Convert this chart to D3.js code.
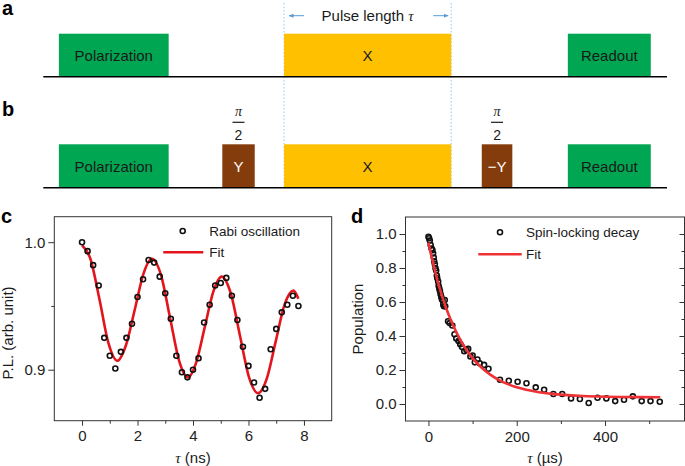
<!DOCTYPE html>
<html>
<head>
<meta charset="utf-8">
<script src="https://cdn.jsdelivr.net/npm/d3@7"></script>
<style>
body { margin: 0; background: #fff; }
svg text { font-family: "Liberation Sans", Arial, sans-serif; fill: #1a1a1a; }
</style>
</head>
<body>
<svg id="chart" width="685" height="466"></svg>
<script>
// PULSE SEQUENCES (position along the sequence, 0-100)
var pulseNames = ['Polarization', 'Y', 'X', '\u2212Y', 'Readout'];
var pulseStart = [2.5, 28.7, 38.6, 70.3, 84.1];
var pulseEnd = [20.1, 33.9, 65.4, 75.2, 97.4];
var pulseKind = ['pol', 'half', 'x', 'half', 'pol'];
var seqA = ['Polarization', 'X', 'Readout'];
var seqB = ['Polarization', 'Y', 'X', '\u2212Y', 'Readout'];

// PANEL C - Rabi oscillation
var rabiTime = [0, 0.2, 0.4, 0.6, 0.8, 1.0, 1.2, 1.4, 1.6, 1.8, 2.0, 2.2, 2.4, 2.6, 2.8, 3.0, 3.2, 3.4, 3.6, 3.8,
    4.0, 4.2, 4.4, 4.6, 4.8, 5.0, 5.2, 5.4, 5.6, 5.8, 6.0, 6.2, 6.4, 6.6, 6.8, 7.0, 7.2, 7.4, 7.6, 7.8];
var rabiPL = [1.000, 0.993, 0.982, 0.966, 0.925, 0.911, 0.901, 0.914, 0.925, 0.936, 0.957, 0.971, 0.986, 0.984,
    0.973, 0.960, 0.940, 0.911, 0.898, 0.894, 0.900, 0.909, 0.937, 0.951, 0.966, 0.968, 0.972, 0.958, 0.939,
    0.918, 0.903, 0.890, 0.878, 0.885, 0.916, 0.932, 0.945, 0.951, 0.958, 0.950];
var rabiFitTime = [0, 0.3, 0.63, 0.95, 1.27, 1.58, 1.9, 2.21, 2.52, 2.85, 3.17, 3.5, 3.82, 4.12, 4.43, 4.73,
    5.03, 5.36, 5.69, 6.02, 6.35, 6.66, 6.98, 7.3, 7.62, 7.8];
var rabiFitPL = [0.9976, 0.987, 0.955, 0.921, 0.907, 0.919, 0.947, 0.975, 0.987, 0.974, 0.941, 0.907, 0.894,
    0.906, 0.934, 0.961, 0.973, 0.960, 0.927, 0.894, 0.8816, 0.893, 0.922, 0.951, 0.962, 0.9556];
var rabiTicksX = [0, 2, 4, 6, 8];
var rabiMinorX = [1, 3, 5, 7];
var rabiTicksY = [0.9, 1.0];
var rabiMinorY = [0.95];

// PANEL D - spin-locking decay
var decayTime = [0, 1.5, 3, 5, 7, 9, 10.5, 12, 13, 14.5, 16, 17.5, 19, 20, 22, 23, 24.5, 26, 27.5, 29, 30.5, 32,
    33.5, 35, 37, 38, 44.5, 48, 54, 59, 63, 68, 72, 76, 81, 86, 90, 95, 100, 105, 111, 116, 126, 136,
    162, 182, 202, 222, 243, 262, 283, 303, 323, 343, 363, 383, 403, 423, 443, 463, 483, 503, 524];
var decayPop = [0.984, 0.975, 0.962, 0.935, 0.915, 0.905, 0.886, 0.862, 0.840, 0.822, 0.798, 0.785, 0.755, 0.740,
    0.720, 0.695, 0.680, 0.664, 0.645, 0.630, 0.616, 0.610, 0.585, 0.575, 0.612, 0.575, 0.487, 0.476, 0.462,
    0.410, 0.385, 0.370, 0.352, 0.335, 0.310, 0.318, 0.324, 0.280, 0.285, 0.245, 0.262, 0.240, 0.230, 0.207,
    0.143, 0.137, 0.131, 0.122, 0.098, 0.084, 0.059, 0.059, 0.033, 0.029, 0.006, 0.037, 0.033, 0.017, 0.025,
    0.045, 0.017, 0.017, 0.013];
var decayFitTime = [0, 10, 20, 30, 40, 50, 60, 70, 80, 90, 100, 120, 140, 160, 180, 200, 225, 250, 275, 300,
    350, 400, 450, 525];
var decayFitPop = [0.95, 0.835, 0.73, 0.642, 0.565, 0.498, 0.44, 0.388, 0.343, 0.304, 0.27, 0.215, 0.173, 0.141,
    0.117, 0.098, 0.082, 0.069, 0.061, 0.055, 0.047, 0.043, 0.041, 0.04];
var decayTicksX = [0, 200, 400];
var decayMinorX = [100, 300, 500];
var decayTicksY = [0, 0.2, 0.4, 0.6, 0.8, 1.0];
var decayMinorY = [0.1, 0.3, 0.5, 0.7, 0.9];

var pulseColors = { pol: '#00a651', x: '#ffc000', half: '#843c0c' };
var svg = d3.select('#chart');

// panel letters
function panelLetter(txt, x, y) {
    svg.append('text').attr('x', x).attr('y', y).text(txt)
        .style('font-size', '20px').style('font-weight', 'bold').style('fill', '#000');
}
panelLetter('a', 2, 15);
panelLetter('b', 2, 116);
panelLetter('c', 1, 223);
panelLetter('d', 351, 223);

// PULSE DIAGRAMS
var seqX = d3.scaleLinear().domain([0, 100]).range([43.3, 667]);

function drawSequence(names, baseY, boxH) {
    var g = svg.append('g');
    names.forEach(function (name) {
        var i = pulseNames.indexOf(name);
        var x0 = seqX(pulseStart[i]), x1 = seqX(pulseEnd[i]);
        g.append('rect')
            .attr('x', x0).attr('y', baseY - boxH)
            .attr('width', x1 - x0).attr('height', boxH)
            .attr('fill', pulseColors[pulseKind[i]]);
        g.append('text')
            .attr('x', (x0 + x1) / 2).attr('y', baseY - boxH / 2 + 5.5)
            .attr('text-anchor', 'middle')
            .style('font-size', '15px')
            .style('fill', pulseKind[i] == 'half' ? '#fff' : '#1a1a1a')
            .text(name);
        if (pulseKind[i] == 'half') {
            var cx = (x0 + x1) / 2;
            g.append('text').attr('x', cx).attr('y', baseY - boxH - 28)
                .attr('text-anchor', 'middle')
                .style('font-family', '"Liberation Serif", serif').style('font-style', 'italic')
                .style('font-size', '14px').text('\u03c0');
            g.append('line').attr('x1', cx - 6).attr('x2', cx + 6)
                .attr('y1', baseY - boxH - 22).attr('y2', baseY - boxH - 22)
                .attr('stroke', '#1a1a1a').attr('stroke-width', 1.2);
            g.append('text').attr('x', cx).attr('y', baseY - boxH - 4.5)
                .attr('text-anchor', 'middle').style('font-size', '14px').text('2');
        }
    });
    g.append('line')
        .attr('x1', seqX(0)).attr('x2', seqX(100))
        .attr('y1', baseY).attr('y2', baseY)
        .attr('stroke', '#000').attr('stroke-width', 1.5);
}

// dotted guides for the X pulse
var xi = pulseNames.indexOf('X');
[pulseStart[xi], pulseEnd[xi]].forEach(function (p) {
    svg.append('line')
        .attr('x1', seqX(p)).attr('x2', seqX(p))
        .attr('y1', 3).attr('y2', 188)
        .attr('stroke', '#9dc3e6').attr('stroke-width', 1)
        .attr('stroke-dasharray', '1.5,2');
});

drawSequence(seqA, 76.7, 43);
drawSequence(seqB, 187.7, 43.4);

// pulse length arrows
svg.append('defs').append('marker')
    .attr('id', 'arrow').attr('viewBox', '0 0 10 10')
    .attr('refX', 9).attr('refY', 5)
    .attr('markerWidth', 5).attr('markerHeight', 5)
    .attr('orient', 'auto-start-reverse')
    .append('path').attr('d', 'M0,1 L10,5 L0,9 z').attr('fill', '#5b9bd5');

var xs = seqX(pulseStart[xi]), xe = seqX(pulseEnd[xi]);
svg.append('line').attr('x1', xs + 20).attr('x2', xs + 5).attr('y1', 15.7).attr('y2', 15.7)
    .attr('stroke', '#5b9bd5').attr('stroke-width', 1).attr('marker-end', 'url(#arrow)');
svg.append('line').attr('x1', xe - 18).attr('x2', xe - 3).attr('y1', 15.7).attr('y2', 15.7)
    .attr('stroke', '#5b9bd5').attr('stroke-width', 1).attr('marker-end', 'url(#arrow)');
var pl = svg.append('text').attr('x', (xs + xe) / 2).attr('y', 21)
    .attr('text-anchor', 'middle').style('font-size', '15px');
pl.append('tspan').text('Pulse length ');
pl.append('tspan').style('font-family', '"Liberation Serif", serif').style('font-style', 'italic').text('\u03c4');

// PLOT PANELS
function drawPanel(opt) {
    var x = d3.scaleLinear().domain(opt.xDomain).range(opt.xRange);
    var y = d3.scaleLinear().domain(opt.yDomain).range(opt.yRange);
    var g = svg.append('g');

    function styleAxis(a) {
        a.select('.domain').remove();
        a.selectAll('line').attr('stroke', '#333');
        a.selectAll('text').style('font-size', '15px').style('fill', '#222')
            .style('font-family', '"Liberation Sans", Arial, sans-serif');
    }

    g.append('g').attr('transform', 'translate(0,' + opt.yRange[0] + ')')
        .call(d3.axisBottom(x).tickValues(opt.ticksX).tickSize(5).tickPadding(5).tickFormat(d3.format('d')))
        .call(styleAxis);
    g.append('g').attr('transform', 'translate(0,' + opt.yRange[0] + ')')
        .call(d3.axisBottom(x).tickValues(opt.minorX).tickSize(3).tickFormat(''))
        .call(styleAxis);
    g.append('g').attr('transform', 'translate(' + opt.xRange[0] + ',0)')
        .call(d3.axisLeft(y).tickValues(opt.ticksY).tickSize(6).tickPadding(3).tickFormat(d3.format('.1f')))
        .call(styleAxis);
    g.append('g').attr('transform', 'translate(' + opt.xRange[0] + ',0)')
        .call(d3.axisLeft(y).tickValues(opt.minorY).tickSize(3).tickFormat(''))
        .call(styleAxis);
    if (opt.rightTicks) {
        g.append('g').attr('transform', 'translate(' + opt.xRange[1] + ',0)')
            .call(d3.axisLeft(y).tickValues(opt.ticksY).tickSize(5).tickFormat(''))
            .call(styleAxis);
        g.append('g').attr('transform', 'translate(' + opt.xRange[1] + ',0)')
            .call(d3.axisLeft(y).tickValues(opt.minorY).tickSize(3).tickFormat(''))
            .call(styleAxis);
    }

    g.append('rect')
        .attr('x', opt.xRange[0]).attr('y', opt.yRange[1])
        .attr('width', opt.xRange[1] - opt.xRange[0]).attr('height', opt.yRange[0] - opt.yRange[1])
        .attr('fill', 'none').attr('stroke', '#333').attr('stroke-width', 1);

    var fitPts = opt.fitX.map(function (d, i) { return [d, opt.fitY[i]]; });
    var pts = opt.dataX.map(function (d, i) { return [d, opt.dataY[i]]; });
    var line = d3.line().x(function (d) { return x(d[0]); }).y(function (d) { return y(d[1]); })
        .curve(d3.curveMonotoneX);

    function drawFit() {
        g.append('path').datum(fitPts).attr('d', line)
            .attr('fill', 'none').attr('stroke', opt.fitColor).attr('stroke-width', 2.6);
    }
    function drawPoints() {
        g.selectAll('circle.pt').data(pts).enter().append('circle').attr('class', 'pt')
            .attr('cx', function (d) { return x(d[0]); })
            .attr('cy', function (d) { return y(d[1]); })
            .attr('r', 2.5)
            .attr('fill', 'none').attr('stroke', '#111').attr('stroke-width', 1.6);
    }
    if (opt.lineOnTop) { drawPoints(); drawFit(); } else { drawFit(); drawPoints(); }

    // legend
    var lg = opt.legend;
    g.append('circle').attr('cx', lg.cx).attr('cy', lg.cy).attr('r', 2.5)
        .attr('fill', 'none').attr('stroke', '#111').attr('stroke-width', 1.6);
    g.append('text').attr('x', lg.tx).attr('y', lg.cy + 4.5).style('font-size', '13.5px').text(lg.label);
    g.append('line').attr('x1', lg.lx0).attr('x2', lg.lx1).attr('y1', lg.ly).attr('y2', lg.ly)
        .attr('stroke', opt.fitColor).attr('stroke-width', 2.6);
    g.append('text').attr('x', lg.tx).attr('y', lg.ly + 4.5).style('font-size', '13.5px').text('Fit');

    // axis titles
    var xt = g.append('text').attr('x', (opt.xRange[0] + opt.xRange[1]) / 2).attr('y', 463)
        .attr('text-anchor', 'middle').style('font-size', '15px');
    xt.append('tspan').style('font-family', '"Liberation Serif", serif').style('font-style', 'italic').text('\u03c4');
    xt.append('tspan').text(opt.xUnit);

    g.append('text')
        .attr('transform', 'translate(' + opt.yTitleX + ',' + opt.yTitleY + ') rotate(-90)')
        .attr('text-anchor', 'middle').attr('dy', '0.35em')
        .style('font-size', '15px').text(opt.yTitle);
}

drawPanel({
    xDomain: [-1, 9], xRange: [54.3, 331.7],
    yDomain: [0.86, 1.02], yRange: [420.7, 216.7],
    ticksX: rabiTicksX, minorX: rabiMinorX, ticksY: rabiTicksY, minorY: rabiMinorY,
    dataX: rabiTime, dataY: rabiPL, fitX: rabiFitTime, fitY: rabiFitPL,
    fitColor: '#e3141b', lineOnTop: false, rightTicks: false,
    legend: { cx: 182.7, cy: 231, tx: 209.3, lx0: 163.3, lx1: 203.3, ly: 252.3, label: 'Rabi oscillation' },
    xUnit: ' (ns)', yTitle: 'P.L. (arb. unit)', yTitleX: 8, yTitleY: 333
});

drawPanel({
    xDomain: [-52, 580], xRange: [405.5, 684.5],
    yDomain: [-0.1, 1.1], yRange: [421, 217],
    ticksX: decayTicksX, minorX: decayMinorX, ticksY: decayTicksY, minorY: decayMinorY,
    dataX: decayTime, dataY: decayPop, fitX: decayFitTime, fitY: decayFitPop,
    fitColor: '#ee3236', lineOnTop: true, rightTicks: true,
    legend: { cx: 500, cy: 232.3, tx: 526, lx0: 478.3, lx1: 521.7, ly: 254.3, label: 'Spin-locking decay' },
    xUnit: ' (\u00b5s)', yTitle: 'Population', yTitleX: 358, yTitleY: 319
});
</script>
</body>
</html>
